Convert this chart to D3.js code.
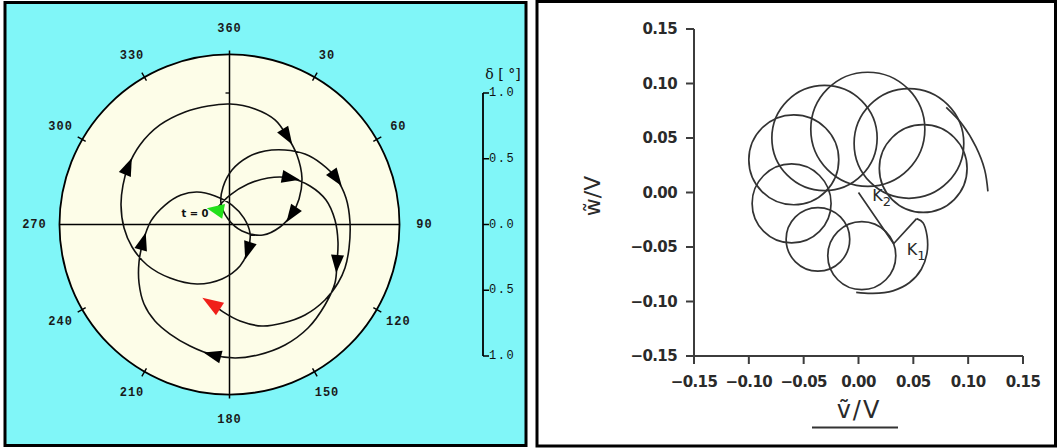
<!DOCTYPE html>
<html><head><meta charset="utf-8">
<script src="https://cdn.jsdelivr.net/npm/d3@7"></script>
<style>body{margin:0;background:#fff}svg{display:block}</style>
</head><body>
<svg id="c" width="1057" height="448"></svg>
<script>
// ---------- left panel data (polar coning plot) ----------
const angleTicks  = [0, 30, 60, 90, 120, 150, 180, 210, 240, 270, 300, 330];
const angleLabels = ["360","30","60","90","120","150","180","210","240","270","300","330"];
const deltaTicks  = [1.0, 0.5, 0.0, -0.5, -1.0];
const deltaLabels = ["1.0","0.5","0.0","0.5","1.0"];
const deltaMax = 1.293;
// trajectory: [δ·sinψ, δ·cosψ] in degrees
const conePath = [
 [-0.087,0.133],[0.004,0.224],[0.141,0.308],[0.293,0.354],[0.460,0.354],[0.612,0.293],[0.734,0.186],
 [0.802,0.034],[0.825,-0.133],[0.817,-0.293],[0.802,-0.445],[0.726,-0.612],[0.597,-0.787],[0.422,-0.916],
 [0.217,-0.992],[0.042,-1.015],[-0.125,-0.992],[-0.300,-0.924],[-0.452,-0.833],[-0.567,-0.734],[-0.650,-0.605],
 [-0.688,-0.445],[-0.688,-0.285],[-0.658,-0.133],[-0.597,0.027],[-0.490,0.148],[-0.369,0.224],[-0.247,0.247],
 [-0.110,0.217],[0.019,0.148],[0.110,0.049],[0.156,-0.065],[0.141,-0.194],[0.080,-0.316],[-0.057,-0.414],
 [-0.247,-0.452],[-0.452,-0.407],[-0.627,-0.308],[-0.741,-0.171],[-0.802,-0.027],[-0.825,0.148],[-0.810,0.300],
 [-0.772,0.437],[-0.681,0.605],[-0.529,0.757],[-0.338,0.856],[-0.163,0.901],[0.004,0.916],[0.194,0.878],
 [0.346,0.795],[0.437,0.673],[0.513,0.529],[0.551,0.354],[0.529,0.194],[0.475,0.080],[0.384,-0.019],
 [0.255,-0.080],[0.095,-0.049],[-0.011,0.042],[-0.065,0.163],[-0.049,0.285],[0.019,0.414],[0.141,0.513],
 [0.270,0.559],[0.422,0.567],[0.574,0.536],[0.703,0.460],[0.810,0.354],[0.886,0.202],[0.916,0.019],
 [0.909,-0.179],[0.878,-0.331],[0.825,-0.445],[0.726,-0.574],[0.574,-0.688],[0.407,-0.749],[0.247,-0.772],
 [0.080,-0.734],[-0.049,-0.665],[-0.148,-0.589]
];
const arrowIdx = [4, 9, 16, 23, 32, 42, 50, 54, 67];
const startLabel = "t = 0";

// ---------- right panel data ----------
const vTicks = [-0.15, -0.10, -0.05, 0.00, 0.05, 0.10, 0.15];
const vTickLabels = ["\u22120.15","\u22120.10","\u22120.05","0.00","0.05","0.10","0.15"];
const loopCx = [0.003, -0.037, -0.061, -0.059, -0.031, 0.0085, 0.046, 0.059];
const loopCy = [-0.058, -0.043, -0.010, 0.030, 0.050, 0.058, 0.045, 0.022];
const loopR  = [0.031, 0.029, 0.036, 0.041, 0.048, 0.052, 0.050, 0.040];
const tailPath = [[0.080,0.078],[0.095,0.062],[0.107,0.042],[0.115,0.021],[0.118,0.001]];
const armPath  = [[0,0],[0.032,-0.047],[0.053,-0.024]];
const hookPath = [[0.053,-0.024],[0.0588,-0.0277],[0.0625,-0.0399],[0.0625,-0.0552],[0.0573,-0.0704],
                  [0.0466,-0.0826],[0.0314,-0.0902],[0.0131,-0.0926],[-0.0021,-0.0917]];

const svg = d3.select("#c");
const CYAN = "#80f6f8", CREAM = "#fdfde8";

// ===== LEFT PANEL =====
svg.append("rect").attr("x",5).attr("y",2.5).attr("width",521).attr("height",443)
  .attr("fill",CYAN).attr("stroke","#000").attr("stroke-width",3);

const cx = 229.5, cy = 224.5, unit = 131.5;
const xP = d3.scaleLinear().domain([-1,1]).range([cx-unit, cx+unit]);
const yP = d3.scaleLinear().domain([-1,1]).range([cy+unit, cy-unit]);
const rP = d3.scaleLinear().domain([0,1]).range([0,unit]);
const polar = (a, d) => [xP(d*Math.sin(a*Math.PI/180)), yP(d*Math.cos(a*Math.PI/180))];

const gL = svg.append("g");
gL.append("circle").attr("cx",xP(0)).attr("cy",yP(0)).attr("r",rP(deltaMax))
  .attr("fill",CREAM).attr("stroke","#000").attr("stroke-width",1.8);
gL.append("line").attr("x1",xP(0)).attr("x2",xP(0)).attr("y1",yP(deltaMax+0.03)).attr("y2",yP(-deltaMax-0.03))
  .attr("stroke","#000").attr("stroke-width",1.5);
gL.append("line").attr("y1",yP(0)).attr("y2",yP(0)).attr("x1",xP(-deltaMax)).attr("x2",xP(deltaMax))
  .attr("stroke","#000").attr("stroke-width",1.5);
gL.append("line").attr("x1",xP(0)-4).attr("x2",xP(0)).attr("y1",yP(1)).attr("y2",yP(1))
  .attr("stroke","#000").attr("stroke-width",1.3);

angleTicks.forEach((a,i)=>{
  if (a % 90 !== 0) {
    const p1 = polar(a, deltaMax-0.03), p2 = polar(a, deltaMax+0.04);
    gL.append("line").attr("x1",p1[0]).attr("y1",p1[1]).attr("x2",p2[0]).attr("y2",p2[1])
      .attr("stroke","#000").attr("stroke-width",1.4);
  }
  const lp = polar(a, deltaMax+0.19);
  gL.append("text").attr("x",lp[0]).attr("y",lp[1]).attr("text-anchor","middle")
    .attr("dominant-baseline","central").attr("font-family","'Liberation Mono', monospace")
    .attr("font-size",12).attr("font-weight","bold").attr("letter-spacing",1).attr("fill","#1a1a1a").text(angleLabels[i]);
});

// trajectory
const lineP = d3.line().x(d=>xP(d[0])).y(d=>yP(d[1])).curve(d3.curveCatmullRom.alpha(0.5));
gL.append("path").attr("d",lineP(conePath)).attr("fill","none").attr("stroke","#111").attr("stroke-width",1.6);

function tri(px, py, ang, len, hw){
  const c = Math.cos(ang), s = Math.sin(ang);
  const tip = [px + c*len*0.55, py + s*len*0.55];
  const bx = px - c*len*0.45, by = py - s*len*0.45;
  return `M${tip[0]},${tip[1]}L${bx - s*hw},${by + c*hw}L${bx + s*hw},${by - c*hw}Z`;
}
arrowIdx.forEach(i=>{
  const a = conePath[i-1], b = conePath[i+1];
  const ang = Math.atan2(yP(b[1])-yP(a[1]), xP(b[0])-xP(a[0]));
  gL.append("path").attr("d",tri(xP(conePath[i][0]), yP(conePath[i][1]), ang, 18, 6.5)).attr("fill","#000");
});
// start (green) and end (red) markers
{
  const s = conePath[0];
  gL.append("path").attr("d",tri(xP(s[0])-2, yP(s[1])+3, Math.PI*1.06, 17, 7.5)).attr("fill","#22e01a");
  const n = conePath.length, e = conePath[n-1], f = conePath[n-3];
  const ang = Math.atan2(yP(e[1])-yP(f[1]), xP(e[0])-xP(f[0]));
  gL.append("path").attr("d",tri(xP(e[0])+2, yP(e[1])+2, ang, 21, 7.5)).attr("fill","#f0201a");
  gL.append("text").attr("x",xP(s[0])-23).attr("y",yP(s[1])+6).attr("text-anchor","middle")
    .attr("dominant-baseline","central").attr("font-family","'DejaVu Sans', sans-serif")
    .attr("font-size",10).attr("font-weight","bold").attr("fill","#111").text(startLabel);
}

// delta scale bar
const barX = 483;
gL.append("line").attr("x1",barX).attr("x2",barX).attr("y1",yP(1)).attr("y2",yP(-1))
  .attr("stroke","#000").attr("stroke-width",1.8);
deltaTicks.forEach((d,i)=>{
  gL.append("line").attr("x1",barX).attr("x2",barX+6).attr("y1",yP(d)).attr("y2",yP(d))
    .attr("stroke","#000").attr("stroke-width",1.5);
  gL.append("text").attr("x",barX+6).attr("y",yP(d)).attr("dominant-baseline","central")
    .attr("font-family","'Liberation Mono', monospace").attr("font-size",12).attr("letter-spacing",1.5)
    .attr("fill","#111").text(deltaLabels[i]);
});
gL.append("text").attr("x",503).attr("y",74).attr("text-anchor","middle").attr("dominant-baseline","central")
  .attr("font-family","'DejaVu Serif', serif").attr("font-size",14).attr("fill","#111").text("\u03b4 [ \u00b0]");

// ===== RIGHT PANEL =====
svg.append("rect").attr("x",537).attr("y",1.5).attr("width",518.5).attr("height",444.5)
  .attr("fill","#fff").attr("stroke","#000").attr("stroke-width",3);

const xR = d3.scaleLinear().domain([-0.15,0.15]).range([694,1023]);
const yR = d3.scaleLinear().domain([-0.15,0.15]).range([356,29]);
const gR = svg.append("g");
const AX = "#3c3c3c";
gR.append("line").attr("x1",xR(-0.15)).attr("x2",xR(-0.15)).attr("y1",yR(-0.15)).attr("y2",yR(0.15))
  .attr("stroke",AX).attr("stroke-width",2);
gR.append("line").attr("x1",xR(-0.15)).attr("x2",xR(0.15)).attr("y1",yR(-0.15)).attr("y2",yR(-0.15))
  .attr("stroke",AX).attr("stroke-width",2);
const fontR = "'DejaVu Sans', sans-serif";
vTicks.forEach((v,i)=>{
  gR.append("line").attr("x1",xR(-0.15)-8).attr("x2",xR(-0.15)).attr("y1",yR(v)).attr("y2",yR(v))
    .attr("stroke",AX).attr("stroke-width",2);
  gR.append("text").attr("x",677).attr("y",yR(v)).attr("text-anchor","end").attr("dominant-baseline","central")
    .attr("font-family",fontR).attr("font-weight","bold").attr("font-size",15).attr("letter-spacing",-0.6)
    .attr("fill","#2a2a2a").text(vTickLabels[i]);
  gR.append("line").attr("x1",xR(v)).attr("x2",xR(v)).attr("y1",yR(-0.15)).attr("y2",yR(-0.15)+8)
    .attr("stroke",AX).attr("stroke-width",2);
  gR.append("text").attr("x",xR(v)).attr("y",382).attr("text-anchor","middle").attr("dominant-baseline","central")
    .attr("font-family",fontR).attr("font-weight","bold").attr("font-size",15).attr("letter-spacing",-0.6)
    .attr("fill","#2a2a2a").text(vTickLabels[i]);
});
gR.append("text").attr("transform","translate(592,196) rotate(-90)").attr("text-anchor","middle")
  .attr("dominant-baseline","central").attr("font-family",fontR).attr("font-size",22).attr("fill","#2a2a2a")
  .text("w\u0303/V");
gR.append("text").attr("x",859).attr("y",410).attr("text-anchor","middle").attr("dominant-baseline","central")
  .attr("font-family",fontR).attr("font-size",24).attr("letter-spacing",2).attr("fill","#2a2a2a").text("v\u0303/V");
gR.append("line").attr("x1",812).attr("x2",898).attr("y1",427.5).attr("y2",427.5).attr("stroke","#333").attr("stroke-width",2);

const CURVE = "#333";
loopCx.forEach((c,i)=>{
  gR.append("circle").attr("cx",xR(c)).attr("cy",yR(loopCy[i])).attr("r",xR(loopR[i])-xR(0))
    .attr("fill","none").attr("stroke",CURVE).attr("stroke-width",1.7);
});
const lineR = d3.line().x(d=>xR(d[0])).y(d=>yR(d[1]));
gR.append("path").attr("d",lineR.curve(d3.curveCatmullRom)(tailPath)).attr("fill","none").attr("stroke",CURVE).attr("stroke-width",1.7);
gR.append("path").attr("d",lineR.curve(d3.curveCatmullRom)(hookPath)).attr("fill","none").attr("stroke",CURVE).attr("stroke-width",1.7);
gR.append("path").attr("d",d3.line().x(d=>xR(d[0])).y(d=>yR(d[1]))(armPath)).attr("fill","none").attr("stroke",CURVE).attr("stroke-width",1.7);

function kLabel(x, y, sub){
  const t = gR.append("text").attr("x",x).attr("y",y).attr("font-family",fontR).attr("font-size",16).attr("fill","#2a2a2a");
  t.append("tspan").text("K");
  t.append("tspan").attr("dy",5).attr("font-size",13).text(sub);
}
kLabel(xR(0.0125), yR(-0.0075), "2");
kLabel(xR(0.044), yR(-0.057), "1");
</script>
</body></html>
